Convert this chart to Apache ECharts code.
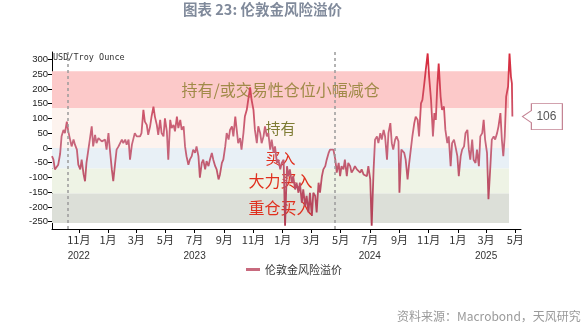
<!DOCTYPE html>
<html><head><meta charset="utf-8">
<script src="https://cdn.jsdelivr.net/npm/echarts@6/dist/echarts.min.js"></script>
<style>html,body{margin:0;padding:0;background:#fff}#c{width:588px;height:326px}</style>
</head><body><div id="c"></div>
<script>
const titleText = '图表 23: 伦敦金风险溢价';
const unitText = 'USD/Troy Ounce';
const seriesName = '伦敦金风险溢价';
const sourceText = '资料来源：Macrobond，天风研究';

const premiumDates = [
'2022-09-06','2022-09-09','2022-09-12','2022-09-16','2022-09-19','2022-09-23','2022-09-26','2022-09-30','2022-10-03','2022-10-07','2022-10-10','2022-10-14','2022-10-17','2022-10-21','2022-10-24','2022-10-28','2022-10-31','2022-11-04','2022-11-07','2022-11-11','2022-11-14','2022-11-17','2022-11-21','2022-11-24','2022-11-28','2022-12-01','2022-12-05','2022-12-08','2022-12-12','2022-12-15','2022-12-19','2022-12-22','2022-12-26','2022-12-29',
'2023-01-02','2023-01-05','2023-01-09','2023-01-12','2023-01-16','2023-01-19','2023-01-23','2023-01-26','2023-01-30','2023-02-02','2023-02-06','2023-02-09','2023-02-13','2023-02-16','2023-02-20','2023-02-23','2023-02-26','2023-03-02','2023-03-05','2023-03-09','2023-03-12','2023-03-16','2023-03-19','2023-03-23','2023-03-26','2023-03-30','2023-04-02','2023-04-06','2023-04-09','2023-04-13','2023-04-16','2023-04-20','2023-04-23','2023-04-27','2023-04-30','2023-05-04','2023-05-07',
'2023-05-11','2023-05-14','2023-05-18','2023-05-21','2023-05-25','2023-05-28','2023-06-01','2023-06-04','2023-06-08','2023-06-11','2023-06-14','2023-06-18','2023-06-21','2023-06-25','2023-06-28','2023-07-02','2023-07-05','2023-07-09','2023-07-12','2023-07-16','2023-07-19','2023-07-23','2023-07-26','2023-07-30','2023-08-02','2023-08-06','2023-08-09','2023-08-13','2023-08-16','2023-08-20','2023-08-23','2023-08-27','2023-08-30','2023-09-03','2023-09-06','2023-09-10','2023-09-13','2023-09-17','2023-09-20','2023-09-24','2023-09-27','2023-09-30','2023-10-04','2023-10-07','2023-10-11','2023-10-14','2023-10-18','2023-10-21','2023-10-25','2023-10-28','2023-11-01','2023-11-04','2023-11-08','2023-11-11','2023-11-15','2023-11-18','2023-11-22','2023-11-25','2023-11-29','2023-12-02','2023-12-06','2023-12-09','2023-12-13','2023-12-16','2023-12-20','2023-12-23','2023-12-27','2023-12-30',
'2024-01-03','2024-01-06','2024-01-10','2024-01-13','2024-01-16','2024-01-20','2024-01-23','2024-01-27','2024-01-30','2024-02-03','2024-02-06','2024-02-10','2024-02-13','2024-02-17','2024-02-20','2024-02-24','2024-02-27','2024-03-02','2024-03-05','2024-03-09','2024-03-12','2024-03-16','2024-03-19','2024-03-23','2024-03-26','2024-03-30','2024-04-02','2024-04-06','2024-04-09','2024-04-13','2024-04-16','2024-04-20','2024-04-23','2024-04-27','2024-04-30','2024-05-03','2024-05-07','2024-05-10','2024-05-14','2024-05-17','2024-05-21','2024-05-24','2024-05-28','2024-05-31','2024-06-04','2024-06-07','2024-06-11','2024-06-14','2024-06-18','2024-06-21','2024-06-25','2024-06-28','2024-07-02','2024-07-05','2024-07-09','2024-07-12','2024-07-16','2024-07-19','2024-07-23','2024-07-26','2024-07-30','2024-08-02','2024-08-06','2024-08-09','2024-08-13','2024-08-16','2024-08-19','2024-08-23','2024-08-26',
'2024-08-30','2024-09-01','2024-09-05','2024-09-07','2024-09-11','2024-09-14','2024-09-18','2024-09-21','2024-09-25','2024-09-28','2024-10-02','2024-10-05','2024-10-09','2024-10-12','2024-10-16','2024-10-19','2024-10-23','2024-10-26','2024-10-30','2024-11-02','2024-11-06','2024-11-09','2024-11-10','2024-11-13','2024-11-16','2024-11-19','2024-11-22','2024-11-26','2024-11-29','2024-12-03','2024-12-06','2024-12-10','2024-12-13','2024-12-17','2024-12-20','2024-12-24','2024-12-27','2024-12-31',
'2025-01-03','2025-01-07','2025-01-10','2025-01-14','2025-01-17','2025-01-21','2025-01-24','2025-01-27','2025-01-31','2025-02-03','2025-02-07','2025-02-10','2025-02-14','2025-02-17','2025-02-21','2025-02-24','2025-02-27','2025-03-03','2025-03-06','2025-03-10','2025-03-13','2025-03-17','2025-03-20','2025-03-24','2025-03-27','2025-03-31','2025-04-03','2025-04-06','2025-04-09','2025-04-12','2025-04-16','2025-04-19','2025-04-22','2025-04-24','2025-04-25'
];
const premiumValues = [
-28,-40,-73,-71,-57,-20,39,61,50,89,56,50,5,28,11,-6,-57,-73,-40,-90,-113,-51,-6,28,73,5,44,16,33,33,22,16,28,-6,
50,-6,-73,-113,-51,-6,5,5,28,16,28,11,28,-40,11,5,50,39,33,39,50,129,89,78,44,73,106,140,106,78,44,95,50,39,100,56,-40,
95,67,78,56,106,67,95,61,73,5,-28,-57,-40,-28,-6,-17,5,-28,-101,-51,-40,-73,-45,-62,-40,-17,-40,-62,-73,-107,-90,-51,-40,5,50,28,61,73,39,106,61,16,33,-6,50,106,129,163,205,163,129,61,16,73,50,16,39,73,39,50,-6,28,-17,5,-51,-40,-73,-51,
-40,-264,-62,-96,-73,-118,-96,-141,-118,-152,-118,-186,-141,-197,-163,-219,-152,-231,-152,-163,-219,-118,-152,-96,-73,-62,-40,-17,-6,0,-6,-40,-84,-51,-96,-62,-73,-40,-96,-51,-62,-84,-73,-62,-73,-67,-84,-73,-90,-84,-96,-62,-107,-264,-73,28,39,16,50,28,61,39,-40,50,84,16,-6,28,39,
22,-152,-6,-6,-17,-40,-107,-57,-51,39,84,106,95,39,151,163,219,264,320,241,163,73,39,118,95,208,286,174,129,140,61,16,39,-62,16,28,5,-28,
-96,-28,-6,5,50,61,-6,-40,28,-40,-51,-6,-62,39,50,95,28,-17,-174,-62,28,39,28,50,73,118,28,-28,39,174,208,320,241,219,106
];

const axisStart = '2022-09-06';
const axisEnd = '2025-05-13';
const bandEnd = '2025-04-18';
const monthTickDates = ['2022-11-01','2023-01-01','2023-03-01','2023-05-01','2023-07-01','2023-09-01','2023-11-01','2024-01-01','2024-03-01','2024-05-01','2024-07-01','2024-09-01','2024-11-01','2025-01-01','2025-03-01','2025-05-01'];
const yearLabelDates = ['2022-11-01','2023-07-01','2024-07-01','2025-03-01'];
const yTickValues = [-250,-200,-150,-100,-50,0,50,100,150,200,250,300];
const dashedLineDates = ['2022-10-09','2024-04-18'];
const bandLabels = ['持有/或交易性仓位小幅减仓','持有','买入','大力买入','重仓买入'];
const bandLower = [135, 0, -70, -155, -255];
const bandUpper = [260, 135, 0, -70, -155];

const bandColors = ['#fcc9c9','#fdf3ee','#e8f0f6','#eef3e5','#dcdfd8'];
const bandTextColors = ['#a08a48','#7e7c34','#e0301e','#e0301e','#e0301e'];
const bandFontSizes = [16, 15, 15, 16, 16];

const P = s => +echarts.number.parseDate(s);
const seriesData = premiumDates.map((d, i) => [P(d), premiumValues[i]]);
const lastIdx = premiumValues.length - 1;

const chart = echarts.init(document.getElementById('c'), null, {renderer: 'canvas'});
const cjk = 'Noto Sans CJK SC';
chart.setOption({
  animation: false,
  backgroundColor: '#fff',
  title: [
    {text: titleText, left: 183, top: 2, padding: 0,
     textStyle: {fontSize: 14.5, fontWeight: 'bold', color: '#808a9b', fontFamily: cjk}},
    {text: unitText, left: 53, top: 53, padding: 0,
     textStyle: {fontSize: 8.5, fontWeight: 'normal', color: '#333', fontFamily: 'DejaVu Sans Mono'}},
    {text: sourceText, left: 397, top: 310, padding: 0,
     textStyle: {fontSize: 12, fontWeight: 'normal', color: '#9a9a9a', fontFamily: cjk}}
  ],
  legend: {
    data: [{name: seriesName, itemStyle: {color: '#c86a7e'}}],
    left: 'center', top: 259, icon: 'rect', itemWidth: 14, itemHeight: 3, itemGap: 4,
    textStyle: {fontSize: 11, color: '#333', fontFamily: cjk}
  },
  grid: {left: 52, right: 67, top: 52, bottom: 97},
  visualMap: {show: false, type: 'continuous', seriesIndex: 1, dimension: 1, min: -260, max: 320,
    inRange: {color: ['#b23c52', '#c8687e', '#d8283a']}},
  xAxis: [
    {type: 'value', min: P(axisStart), max: P(axisEnd), scale: true,
     axisLine: {show: true, onZero: false, lineStyle: {color: '#000', width: 1}},
     axisTick: {show: true, length: 4, customValues: monthTickDates.map(P), lineStyle: {color: '#000'}},
     axisLabel: {customValues: monthTickDates.map(P), margin: 5, fontSize: 11, color: '#333', fontFamily: cjk,
       formatter: v => (new Date(v).getMonth() + 1) + '月'},
     splitLine: {show: false}},
    {type: 'value', min: P(axisStart), max: P(axisEnd), scale: true, position: 'bottom', offset: 17,
     axisLine: {show: false, onZero: false}, axisTick: {show: false},
     axisLabel: {customValues: yearLabelDates.map(P), margin: 5, fontSize: 10, color: '#333', fontFamily: 'Liberation Sans',
       formatter: v => String(new Date(v).getFullYear())},
     splitLine: {show: false}}
  ],
  yAxis: {type: 'value', min: -275, max: 325,
    axisLine: {show: true, onZero: false, lineStyle: {color: '#000', width: 1}},
    axisTick: {show: true, length: 4, customValues: yTickValues, lineStyle: {color: '#000'}},
    axisLabel: {customValues: yTickValues, margin: 4, fontSize: 9.5, color: '#222', fontFamily: 'Liberation Sans'},
    splitLine: {show: false}},
  series: [
    {type: 'line', name: 'bands', data: [], z: 1, silent: true,
     markArea: {silent: true,
       label: {show: true, position: 'inside', fontFamily: cjk},
       data: bandLabels.map((name, i) => [
         {name: name, xAxis: P(axisStart), yAxis: bandLower[i],
          itemStyle: {color: bandColors[i]},
          label: {color: bandTextColors[i], fontSize: bandFontSizes[i]}},
         {xAxis: P(bandEnd), yAxis: bandUpper[i]}
       ])}},
    {type: 'line', name: seriesName, data: seriesData, z: 3, symbol: 'none', showSymbol: false,
     lineStyle: {width: 1.8},
     markLine: {silent: true, symbol: ['none', 'none'], label: {show: false},
       lineStyle: {color: '#9a9a9a', type: [3, 3], width: 1.5},
       data: dashedLineDates.map(d => ({xAxis: P(d)}))},
     markPoint: {silent: true,
       symbol: 'path://M0,13L9,7L9,0L40,0L40,26L9,26L9,19Z',
       symbolSize: [40, 26], symbolOffset: [30, 0],
       itemStyle: {color: '#fff', borderColor: '#c48494', borderWidth: 1},
       label: {show: true, position: 'inside', offset: [4, 0], color: '#555', fontSize: 12, fontFamily: 'Liberation Sans',
         formatter: p => String(p.value)},
       data: [{coord: [P(premiumDates[lastIdx]), premiumValues[lastIdx]], value: premiumValues[lastIdx]}]}}
  ]
});
</script></body></html>
